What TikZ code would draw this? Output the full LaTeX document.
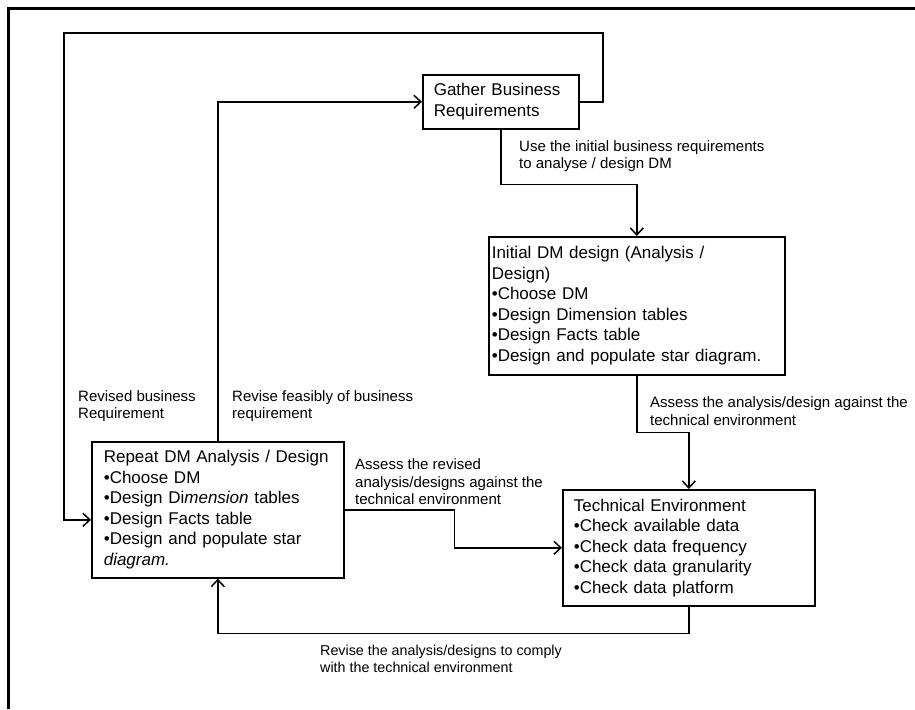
\documentclass[tikz,border=0pt]{standalone}
\usepackage{fontspec}
\setmainfont{Liberation Sans}
\usetikzlibrary{arrows.meta}

\tikzset{
  stepbox/.style={draw,line width=1.6pt,rectangle,anchor=north west,align=left,
    font=\fontsize{17}{20.5}\selectfont},
  note/.style={anchor=west,inner sep=0pt,align=left,
    font=\fontsize{15}{17.5}\selectfont},
  flow/.style={draw,line width=1.5pt,-{Straight Barb[length=7pt,width=13pt]}},
}

\begin{document}
\begin{tikzpicture}[x=1pt,y=-1pt]
  \useasboundingbox (0,0) rectangle (915,709);

  % outer frame
  \draw[line width=3pt] (915,9) -- (8,9) -- (8,709);

  % boxes
  \node[stepbox,inner xsep=11pt,text width=134pt,minimum height=54pt] (gather) at (422,74)
    {Gather Business\\Requirements};
  \node[stepbox,inner xsep=3pt,text width=290pt,minimum height=138pt] (initial) at (488,236)
    {Initial DM design (Analysis /\\Design)\\\textbullet Choose DM\\\textbullet Design Dimension tables\\
     \textbullet Design Facts table\\\textbullet Design and populate star diagram.};
  \node[stepbox,inner xsep=12pt,text width=228pt,minimum height=136pt] (repeat) at (91,441)
    {Repeat DM Analysis / Design\\\textbullet Choose DM\\\textbullet Design Di\textit{mension} tables\\
     \textbullet Design Facts table\\\textbullet Design and populate star\\\textit{diagram.}};
  \node[stepbox,inner xsep=11pt,text width=230pt,minimum height=116pt] (tech) at (562,489)
    {Technical Environment\\\textbullet Check available data\\\textbullet Check data frequency\\
     \textbullet Check data granularity\\\textbullet Check data platform};

  % connector texts
  \node[note] (useLbl) at (519,156) {Use the initial business requirements\\to analyse / design DM};
  \node[note] (assessLbl) at (650,411) {Assess the analysis/design against the\\technical environment};
  \node[note] (revBizLbl) at (78,406) {Revised business\\Requirement};
  \node[note] (feasLbl) at (232,406) {Revise feasibly of business\\requirement};
  \node[note] (assessRevLbl) at (355,482) {Assess the revised\\analysis/designs against the\\technical environment};
  \node[note,font=\fontsize{14.3}{17.5}\selectfont] (reviseLbl) at (320,659)
    {Revise the analysis/designs to comply\\with the technical environment};

  % connectors
  \coordinate (loopR) at (603,33);
  \coordinate (loopL) at (64,33);
  \draw[flow] (gather.east) -| (loopR) -- (loopL) |- ([yshift=-10pt]repeat.west);
  \draw[flow] (repeat.north) |- (gather.west);
  \draw[flow] (gather.south) -- ++(0,55) -| (initial.north);
  \draw[flow] (initial.south) -- ++(0,57) -| (tech.north);
  \draw[flow] (repeat.east) -- ++(110,0) |- (tech.west);
  \draw[flow] (tech.south) -- ++(0,27) -| (repeat.south);
\end{tikzpicture}
\end{document}
